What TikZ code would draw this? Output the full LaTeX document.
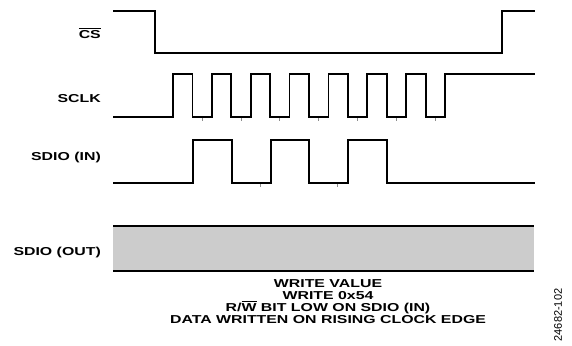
\documentclass[tikz,border=0pt]{standalone}
\usepackage{fontspec}
\setmainfont{Liberation Sans}
\usepackage{graphicx}

% labels are set wide, as in the datasheet figure
\newcommand{\wide}[1]{\scalebox{1.38}[1]{#1}}

\begin{document}
\begin{tikzpicture}[x=1pt, y=-1pt,
    wave/.style={line width=1.8pt},
    nub/.style={black!45, line width=0.9pt},
    lbl/.style={font=\fontsize{11.5}{12}\selectfont\bfseries, inner sep=0pt}]
\useasboundingbox (0,0) rectangle (572,345);

% Signal names
\node[lbl, anchor=base east] (cs) at (101,38) {\wide{$\overline{\mbox{CS}}$}};
\node[lbl, anchor=base east] (sclk) at (101,102.5) {\wide{SCLK}};
\node[lbl, anchor=base east] (sdioin) at (101,160) {\wide{SDIO (IN)}};
\node[lbl, anchor=base east] (sdioout) at (101,255) {\wide{SDIO (OUT)}};

% CS
\draw[wave] (113,11) -- (155,11) -- (155,53) -- (502,53) -- (502,11) -- (535,11);

% SCLK: eight rising edges
\draw[wave] (113,117)
    \foreach \k in {0,...,6} { -- ({173+38.86*\k},117) -- ++(0,-43) -- ++(19.5,0) -- ++(0,43) }
    -- (445,117) -- (445,74) -- (535,74);
\foreach \k in {0,...,6}
    \draw[nub] ({202.2+38.86*\k},118) -- ++(0,3);

% SDIO (IN)
\draw[wave] (113,183) -- (193,183) -- (193,140) -- (232,140) -- (232,183)
    -- (271,183) -- (271,140) -- (309,140) -- (309,183)
    -- (348,183) -- (348,140) -- (387,140) -- (387,183) -- (535,183);
\foreach \x in {260,337}
    \draw[nub] (\x,184) -- ++(0,3);

% SDIO (OUT)
\fill[black!20] (113,226) rectangle (534,271);
\draw[line width=2pt] (113,226) -- (534,226);
\draw[line width=2pt] (113,271) -- (534,271);

% Notes
\foreach \txt [count=\i] in {WRITE VALUE, WRITE 0x54, {R/$\overline{\mbox{W}}$ BIT LOW ON SDIO (IN)}, DATA WRITTEN ON RISING CLOCK EDGE}
    \node[lbl, anchor=base] (note\i) at (328,275+12*\i) {\wide{\txt}};

% Figure number
\node[font=\fontsize{11}{12}\selectfont, inner sep=0pt, rotate=90] (figno) at (558,315) {24682-102};
\end{tikzpicture}
\end{document}
